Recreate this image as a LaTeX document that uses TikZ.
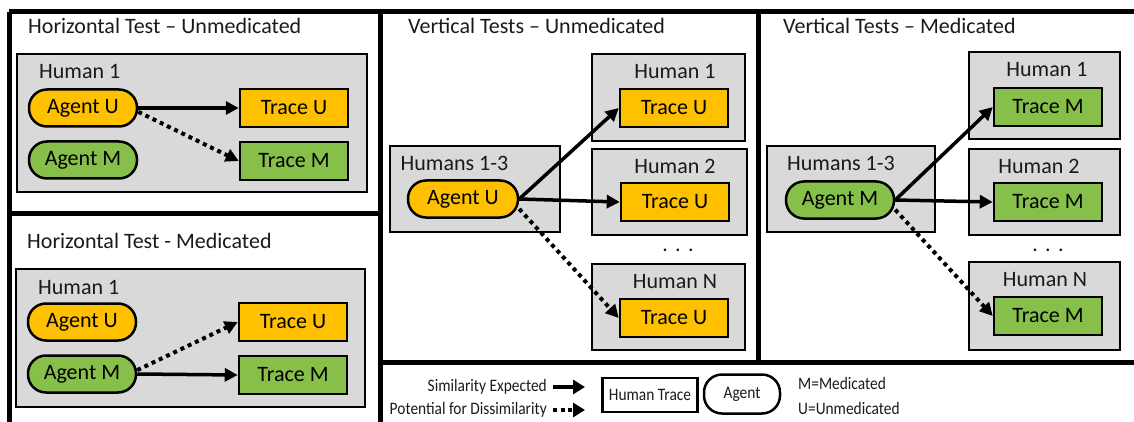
\documentclass[tikz,border=0pt]{standalone}
\usepackage{fontspec}
\setmainfont{Carlito}
\newfontfamily\legendfont[FakeStretch=0.88]{Carlito}
\usetikzlibrary{arrows.meta}
\definecolor{agentorange}{HTML}{FFC000}
\definecolor{agentgreen}{HTML}{86BF4A}
\definecolor{boxgray}{HTML}{D9D9D9}
\definecolor{inkgray}{HTML}{1A1A1A}
\tikzset{
  panel/.style={line width=5pt},
  humanbox/.style={draw, fill=boxgray, line width=2.5pt, inner sep=0pt},
  tracebox/.style={draw, line width=2.5pt, minimum width=108pt, minimum height=38pt, inner sep=0pt, font=\fontsize{22}{26}\selectfont},
  agentpill/.style={draw, line width=2.5pt, rounded corners=18pt, minimum width=108pt, minimum height=37pt, inner sep=0pt, font=\fontsize{22}{26}\selectfont},
  title/.style={anchor=west, inner sep=0pt, text=inkgray, font=\fontsize{22}{26}\selectfont},
  lbl/.style={inner sep=0pt, text=inkgray, font=\fontsize{22}{26}\selectfont},
  arr/.style={line width=3.5pt, -{Triangle[length=13pt,width=13pt]}},
  darr/.style={line width=4pt, dash pattern=on 4pt off 4pt, -{Triangle[length=13pt,width=13pt]}},
  legtext/.style={inner sep=0pt, text=inkgray, font=\legendfont\fontsize{17.5}{20}\selectfont},
}
\begin{document}
\begin{tikzpicture}[x=1pt, y=-1pt]
\useasboundingbox (0,0) rectangle (1134,422);
% panel frames
\draw[panel] (9,12) -- (1140,12);
\draw[panel] (9,12) -- (9,430);
\draw[panel] (380,12) -- (380,430);
\draw[panel] (9,213) -- (380,213);
\draw[panel] (758,12) -- (758,362);
\draw[panel] (380,362) -- (1140,362);

% ---------- Horizontal Test - Unmedicated ----------
\node[title] (t1) at (28,26) {Horizontal Test – Unmedicated};
\node[humanbox, minimum width=350pt, minimum height=138pt] (hA) at (192,123) {};
\node[lbl, anchor=west] (hAl) at (39,72) {Human 1};
\node[agentpill, fill=agentorange] (aU1) at (83,108) {Agent U};
\node[agentpill, fill=agentgreen] (aM1) at (83,160) {Agent M};
\node[tracebox, fill=agentorange] (tU1) at (294,108) {Trace U};
\node[tracebox, fill=agentgreen] (tM1) at (294,161) {Trace M};
\draw[arr] (aU1.east) -- (tU1.west);
\draw[darr] (aU1.-4) -- (tM1.west);

% ---------- Horizontal Test - Medicated ----------
\node[title] (t2) at (27,241) {Horizontal Test - Medicated};
\node[humanbox, minimum width=349pt, minimum height=138pt] (hB) at (190.5,338) {};
\node[lbl, anchor=west] (hBl) at (38,287) {Human 1};
\node[agentpill, fill=agentorange] (aU2) at (82,322) {Agent U};
\node[agentpill, fill=agentgreen] (aM2) at (82,374) {Agent M};
\node[tracebox, fill=agentorange] (tU2) at (293,322) {Trace U};
\node[tracebox, fill=agentgreen] (tM2) at (293,375) {Trace M};
\draw[arr] (aM2.east) -- (tM2.west);
\draw[darr] (aM2.4) -- (tU2.west);

% ---------- Vertical Tests - Unmedicated ----------
\node[title] (t3) at (408,26) {Vertical Tests – Unmedicated};
\node[humanbox, minimum width=170pt, minimum height=86pt] (vU) at (475,189) {};
\node[lbl] (vUl) at (454.5,163) {Humans 1-3};
\node[agentpill, fill=agentorange, minimum width=110pt] (aU3) at (463,199) {Agent U};
\node[humanbox, minimum width=153pt, minimum height=87pt] (vU1) at (668.5,97.5) {};
\node[lbl] (vU1l) at (675,72) {Human 1};
\node[tracebox, fill=agentorange] (tU31) at (674,108) {Trace U};
\node[humanbox, minimum width=155pt, minimum height=86pt] (vU2) at (669.5,192) {};
\node[lbl] (vU2l) at (675,166) {Human 2};
\node[tracebox, fill=agentorange] (tU32) at (675,202) {Trace U};
\node[lbl, anchor=base] (dotsU) at (678,251) {.\,\,.\,\,.};
\node[humanbox, minimum width=153pt, minimum height=86pt] (vUN) at (668.5,307) {};
\node[lbl] (vUNl) at (675,282) {Human N};
\node[tracebox, fill=agentorange] (tU3N) at (674,318) {Trace U};
\draw[arr] (aU3.east) -- (tU31.west);
\draw[arr] (aU3.east) -- (tU32.west);
\draw[darr] (aU3.-10) -- (tU3N.west);

% ---------- Vertical Tests - Medicated ----------
\node[title] (t4) at (783,26) {Vertical Tests – Medicated};
\node[humanbox, minimum width=168pt, minimum height=86pt] (vM) at (851,189) {};
\node[lbl] (vMl) at (841,163) {Humans 1-3};
\node[agentpill, fill=agentgreen] (aM4) at (840,200) {Agent M};
\node[humanbox, minimum width=151pt, minimum height=87pt] (vM1) at (1044.5,95.5) {};
\node[lbl] (vM1l) at (1047,70) {Human 1};
\node[tracebox, fill=agentgreen] (tM41) at (1048,107) {Trace M};
\node[humanbox, minimum width=151pt, minimum height=86pt] (vM2) at (1044.5,192) {};
\node[lbl] (vM2l) at (1039,166) {Human 2};
\node[tracebox, fill=agentgreen] (tM42) at (1048,202) {Trace M};
\node[lbl, anchor=base] (dotsM) at (1048,251) {.\,\,.\,\,.};
\node[humanbox, minimum width=151pt, minimum height=88pt] (vMN) at (1044.5,306) {};
\node[lbl] (vMNl) at (1045,280) {Human N};
\node[tracebox, fill=agentgreen] (tM4N) at (1048,316) {Trace M};
\draw[arr] (aM4.east) -- (tM41.west);
\draw[arr] (aM4.east) -- (tM42.west);
\draw[darr] (aM4.-10) -- (tM4N.west);

% ---------- Legend ----------
\node[legtext, anchor=east] (lg1) at (547,387) {Similarity Expected};
\node[legtext, anchor=east] (lg2) at (547,410) {Potential for Dissimilarity};
\coordinate (ls1) at (553,387);
\coordinate (le1) at (585,387);
\coordinate (ls2) at (553,410);
\coordinate (le2) at (585,410);
\draw[line width=4.5pt, -{Triangle[length=12pt,width=14pt]}] (ls1) -- (le1);
\draw[line width=4.5pt, dash pattern=on 4pt off 3.5pt, -{Triangle[length=12pt,width=14pt]}] (ls2) -- (le2);
\node[draw, fill=white, line width=2.5pt, minimum width=95pt, minimum height=34pt, inner sep=0pt, legtext] (lgH) at (650,395) {Human Trace};
\node[draw, fill=white, line width=2.5pt, rounded corners=18pt, minimum width=76pt, minimum height=39pt, inner sep=0pt, legtext] (lgA) at (742,394) {Agent};
\node[legtext, anchor=west] (lgM) at (798,383) {M=Medicated};
\node[legtext, anchor=west] (lgU) at (798,408) {U=Unmedicated};
\end{tikzpicture}
\end{document}
